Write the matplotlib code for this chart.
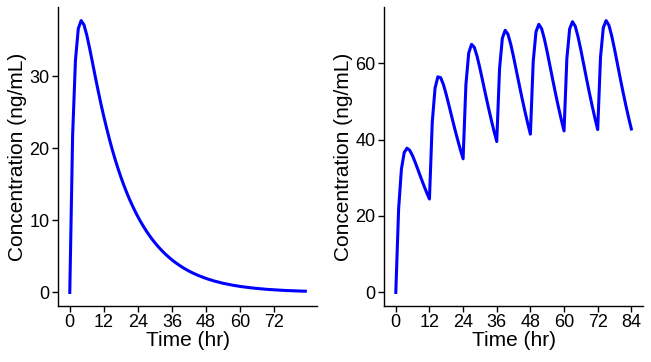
import matplotlib
matplotlib.use('Agg')
import matplotlib.pyplot as plt

plt.rcParams['font.family'] = ['Liberation Sans', 'DejaVu Sans']

# single dose concentration (ng/mL), hourly
single_time = list(range(0, 84))
single_conc = [0, 21.77, 32.24, 36.61, 37.73, 37.14, 35.70, 33.87, 31.90, 29.91, 27.98, 26.13,
               24.39, 22.77, 21.22, 19.78, 18.44, 17.19, 16.02, 14.93, 13.92, 12.97, 12.10, 11.27,
               10.51, 9.79, 9.13, 8.51, 7.93, 7.39, 6.89, 6.42, 5.99, 5.58, 5.20, 4.85,
               4.52, 4.21, 3.93, 3.66, 3.41, 3.18, 2.96, 2.76, 2.58, 2.40, 2.24, 2.09,
               1.94, 1.81, 1.69, 1.57, 1.47, 1.37, 1.27, 1.19, 1.11, 1.03, 0.96, 0.90,
               0.83, 0.78, 0.73, 0.68, 0.63, 0.59, 0.55, 0.51, 0.48, 0.44, 0.41, 0.39,
               0.36, 0.34, 0.31, 0.29, 0.27, 0.25, 0.24, 0.22, 0.21, 0.19, 0.18, 0.17]

# repeated dosing every 12 hr
multi_time = list(range(0, 85))
multi_conc = [0, 21.77, 32.24, 36.61, 37.73, 37.14, 35.70, 33.87, 31.90, 29.91, 27.98, 26.13,
              24.43, 44.54, 53.46, 56.39, 56.17, 54.33, 51.72, 48.80, 45.82, 42.88, 40.08, 37.40,
              34.94, 54.33, 62.60, 64.90, 64.11, 61.72, 58.62, 55.23, 51.80, 48.47, 45.28, 42.25,
              39.46, 58.55, 66.52, 68.57, 67.52, 64.90, 61.58, 57.99, 54.38, 50.87, 47.51, 44.34,
              41.40, 60.36, 68.21, 70.14, 68.99, 66.27, 62.86, 59.18, 55.49, 51.90, 48.48, 45.23,
              42.24, 61.14, 68.94, 70.82, 69.62, 66.85, 63.41, 59.69, 55.96, 52.34, 48.89, 45.62,
              42.59, 61.47, 69.25, 71.11, 69.89, 67.11, 63.64, 59.91, 56.17, 52.53, 49.07, 45.78,
              42.75]

x_ticks_left = [0, 12, 24, 36, 48, 60, 72]
x_ticks_right = [0, 12, 24, 36, 48, 60, 72, 84]
y_ticks_left = [0, 10, 20, 30]
y_ticks_right = [0, 20, 40, 60]

fig = plt.figure(figsize=(6.51, 3.62), dpi=100)
ax1 = fig.add_axes([0.0891, 0.1547, 0.398, 0.826])
ax2 = fig.add_axes([0.5899, 0.1547, 0.398, 0.826])

def style(ax, t, c, xt, yt):
    ax.plot(t, c, color='#0000ff', lw=2.2, solid_joinstyle='round')
    xr = max(t) - min(t)
    yr = max(c) - min(c)
    ax.set_xlim(min(t) - 0.05 * xr, max(t) + 0.05 * xr)
    ax.set_ylim(min(c) - 0.05 * yr, max(c) + 0.05 * yr)
    ax.set_xticks(xt)
    ax.set_yticks(yt)
    for s in ['top', 'right']:
        ax.spines[s].set_visible(False)
    for s in ['left', 'bottom']:
        ax.spines[s].set_linewidth(1.0)
        ax.spines[s].set_color('black')
    ax.tick_params(length=4, width=1.0, labelsize=13, colors='black', pad=2)
    ax.set_xlabel('Time (hr)', fontsize=15, labelpad=0)
    ax.set_ylabel('Concentration (ng/mL)', fontsize=15, labelpad=2)

style(ax1, single_time, single_conc, x_ticks_left, y_ticks_left)
style(ax2, multi_time, multi_conc, x_ticks_right, y_ticks_right)

fig.savefig('out.png', dpi=100)
